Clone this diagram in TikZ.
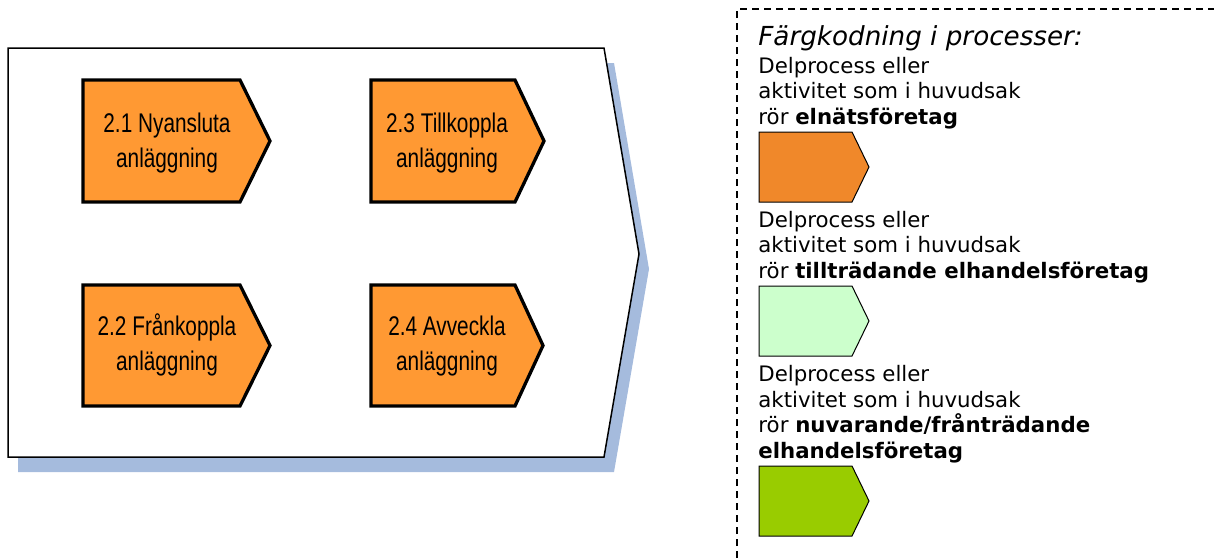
\documentclass[tikz,border=0pt]{standalone}
\usepackage{fontspec}
\setmainfont{DejaVu Sans}
\newfontfamily\boxfont[FakeStretch=0.77]{Liberation Sans}
\definecolor{procorange}{RGB}{255,153,51}
\definecolor{legorange}{RGB}{240,136,42}
\definecolor{leglight}{RGB}{204,255,204}
\definecolor{leggreen}{RGB}{153,204,0}
\definecolor{shadowblue}{RGB}{165,187,221}
\begin{document}
\begin{tikzpicture}[x=0.5pt,y=-0.5pt,
  shadowfill/.style={fill=shadowblue,draw=none},
  frame/.style={draw=black,line width=0.75pt,fill=white,line join=miter},
  procbox/.style={draw=black,line width=1.65pt,fill=procorange,line join=miter},
  proctext/.style={font=\boxfont\fontsize{13.5pt}{17.5pt}\selectfont,align=center,inner sep=0pt,anchor=base},
  legendbox/.style={draw=black,line width=0.5pt,line join=miter},
  legendtext/.style={font=\fontsize{10.65pt}{12.75pt}\selectfont,align=left,inner sep=0pt,anchor=base west},
  legendtitle/.style={font=\itshape\fontsize{13.1pt}{15pt}\selectfont,inner sep=0pt,anchor=base west},
  legendborder/.style={draw=black,line width=1pt,dash pattern=on 3.5pt off 2.5pt}]
\useasboundingbox (0,0) rectangle (1214,558);

% main process shape with shadow
\path[shadowfill] (18,63) -- (614,63) -- (649,269) -- (614,472) -- (18,472) -- cycle;
\path[frame] (8,48) -- (604,48) -- (639,254) -- (604,457) -- (8,457) -- cycle;

% sub-processes
\path[procbox] (83,80) -- (240,80) -- (270,141) -- (240,202) -- (83,202) -- cycle;
\path[procbox] (371,80) -- (515,80) -- (544,141) -- (515,202) -- (371,202) -- cycle;
\path[procbox] (83,285) -- (240,285) -- (270,345.5) -- (240,406) -- (83,406) -- cycle;
\path[procbox] (371,285) -- (515,285) -- (543,345.5) -- (515,406) -- (371,406) -- cycle;

% (base anchor = baseline of the last line)
\node[proctext] (t21) at (167,167) {2.1 Nyansluta\\anläggning};
\node[proctext] (t23) at (447,167) {2.3 Tillkoppla\\anläggning};
\node[proctext] (t22) at (167,370) {2.2 Frånkoppla\\anläggning};
\node[proctext] (t24) at (447,370) {2.4 Avveckla\\anläggning};

% legend
\draw[legendborder] (737,558) -- (737,9) -- (1214,9);
\node[legendtitle] (ltitle) at (758,45) {Färgkodning i processer:};
\node[legendtext] (l1) at (758,124) {Delprocess eller\\aktivitet som i huvudsak\\rör \textbf{elnätsföretag}};
\path[legendbox,fill=legorange] (759,132) -- (852,132) -- (869,167) -- (852,202) -- (759,202) -- cycle;
\node[legendtext] (l2) at (758,278) {Delprocess eller\\aktivitet som i huvudsak\\rör \textbf{tillträdande elhandelsföretag}};
\path[legendbox,fill=leglight] (759,286) -- (852,286) -- (869,321) -- (852,356) -- (759,356) -- cycle;
\node[legendtext] (l3) at (758,458) {Delprocess eller\\aktivitet som i huvudsak\\rör \textbf{nuvarande/frånträdande}\\\textbf{elhandelsföretag}};
\path[legendbox,fill=leggreen] (759,466) -- (852,466) -- (869,501) -- (852,536) -- (759,536) -- cycle;
\end{tikzpicture}
\end{document}
